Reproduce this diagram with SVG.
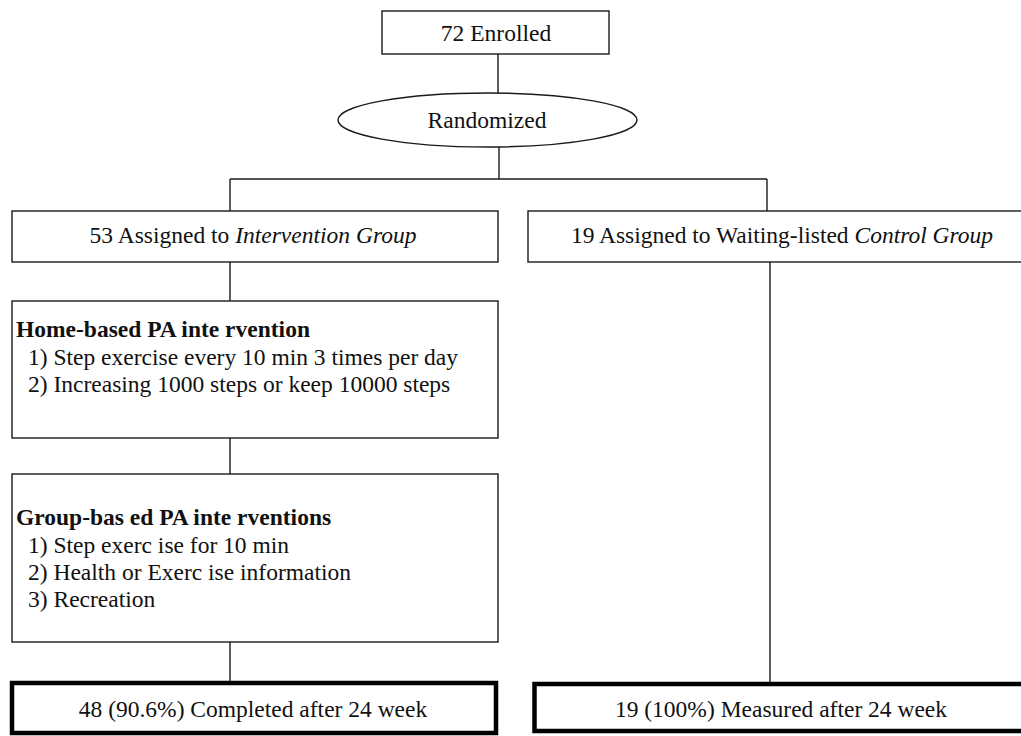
<svg xmlns="http://www.w3.org/2000/svg" width="1021" height="736" viewBox="0 0 1021 736">
<style>
  .box { fill: #fff; stroke: #1a1a1a; stroke-width: 1.4; }
  .thick { fill: #fff; stroke: #000; stroke-width: 4.5; }
  text { font-family: 'Liberation Serif', 'DejaVu Serif', 'Times New Roman', serif; font-size: 23.5px; fill: #111; }
  .c { text-anchor: middle; }
  .b { font-weight: bold; }
  .i { font-style: italic; }
  .conn line { stroke: #1a1a1a; stroke-width: 1.4; }
</style>
<rect width="1021" height="736" fill="#fff"/>
<g id="connectors" class="conn">
  <line x1="498" y1="54" x2="498" y2="93"/>
  <line x1="499" y1="147" x2="499" y2="179"/>
  <line x1="230" y1="179" x2="767" y2="179"/>
  <line x1="230" y1="179" x2="230" y2="211"/>
  <line x1="767" y1="179" x2="767" y2="211"/>
  <line x1="230" y1="262" x2="230" y2="301"/>
  <line x1="230" y1="438" x2="230" y2="474"/>
  <line x1="230" y1="642" x2="230" y2="681"/>
  <line x1="770" y1="262" x2="770" y2="682"/>
</g>
<g id="enrolled">
  <rect class="box" x="382" y="11" width="227" height="43"/>
  <text class="c" x="496" y="41">72 Enrolled</text>
</g>
<g id="randomized">
  <ellipse class="box" cx="487.5" cy="120" rx="149.5" ry="27"/>
  <text class="c" x="487" y="128">Randomized</text>
</g>
<g id="intervention">
  <rect class="box" x="12" y="211" width="486" height="51"/>
  <text class="c" x="253" y="243">53 Assigned to <tspan class="i">Intervention Group</tspan></text>
</g>
<g id="control">
  <rect class="box" x="528" y="211" width="510" height="51"/>
  <text class="c" x="782" y="243">19 Assigned to Waiting-listed <tspan class="i">Control Group</tspan></text>
</g>
<g id="home">
  <rect class="box" x="12" y="301" width="486" height="137"/>
  <text class="b" x="16" y="337">Home-based PA inte rvention</text>
  <text x="28" y="365">1) Step exercise every 10 min 3 times per day</text>
  <text x="28" y="392">2) Increasing 1000 steps or keep 10000 steps</text>
</g>
<g id="group">
  <rect class="box" x="12" y="474" width="486" height="168"/>
  <text class="b" x="16" y="525">Group-bas ed PA inte rventions</text>
  <text x="28" y="553">1) Step exerc ise for 10 min</text>
  <text x="28" y="580">2) Health or Exerc ise information</text>
  <text x="28" y="607">3) Recreation</text>
</g>
<g id="completed">
  <rect class="thick" x="12" y="683" width="484" height="50"/>
  <text class="c" x="253" y="717">48 (90.6%) Completed after 24 week</text>
</g>
<g id="measured">
  <rect class="thick" x="534.5" y="684" width="500" height="47"/>
  <text class="c" x="781" y="717">19 (100%) Measured after 24 week</text>
</g>
</svg>
